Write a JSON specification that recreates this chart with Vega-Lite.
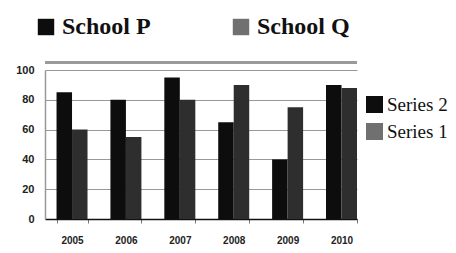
{
  "$schema": "https://vega.github.io/schema/vega-lite/v6.json",
  "autosize": {"type": "none"},
  "padding": {"left": 45, "top": 70, "right": 99, "bottom": 34},
  "width": 312,
  "height": 149,
  "background": "white",
  "config": {
    "view": {"stroke": null},
    "font": "Liberation Serif",
    "axis": {"title": null},
    "axisY": {
      "tickCount": 5, "labelOverlap": false,
      "grid": true, "gridColor": "#999", "gridWidth": 1,
      "ticks": false, "labelPadding": 11,
      "domainColor": "#999", "domainWidth": 1.5,
      "labelFont": "Liberation Sans", "labelFontWeight": "bold", "labelFontSize": 11, "labelColor": "#222"
    },
    "axisX": {
      "labelAngle": 0, "labelFont": "Liberation Sans", "labelFontWeight": "bold", "labelFontSize": 10,
      "labelColor": "#222", "domainColor": "#111", "domainWidth": 1.5,
      "tickBand": "extent", "tickSize": 4, "tickColor": "#777", "labelPadding": 12
    }
  },
  "data": {
    "values": [
      {"year": "2005", "school": "School P", "series": "Series 2", "value": 85},
      {"year": "2005", "school": "School Q", "series": "Series 1", "value": 60},
      {"year": "2006", "school": "School P", "series": "Series 2", "value": 80},
      {"year": "2006", "school": "School Q", "series": "Series 1", "value": 55},
      {"year": "2007", "school": "School P", "series": "Series 2", "value": 95},
      {"year": "2007", "school": "School Q", "series": "Series 1", "value": 80},
      {"year": "2008", "school": "School P", "series": "Series 2", "value": 65},
      {"year": "2008", "school": "School Q", "series": "Series 1", "value": 90},
      {"year": "2009", "school": "School P", "series": "Series 2", "value": 40},
      {"year": "2009", "school": "School Q", "series": "Series 1", "value": 75},
      {"year": "2010", "school": "School P", "series": "Series 2", "value": 90},
      {"year": "2010", "school": "School Q", "series": "Series 1", "value": 88}
    ]
  },
  "layer": [
    {
      "mark": {"type": "bar"},
      "encoding": {
        "x": {
          "field": "year", "type": "nominal",
          "scale": {"paddingInner": 0.425, "paddingOuter": 0.107, "align": 1}
        },
        "xOffset": {"field": "school", "type": "nominal", "sort": ["School P", "School Q"]},
        "y": {
          "field": "value", "type": "quantitative",
          "scale": {"domain": [0, 100], "nice": false}
        },
        "color": {
          "condition": {"test": "datum.school === 'School P'", "value": "#0d0d0d"},
          "value": "#2e2e2e"
        }
      }
    },
    {
      "mark": {"type": "bar"},
      "encoding": {
        "x": {"field": "year", "type": "nominal"},
        "xOffset": {"field": "school", "type": "nominal", "sort": ["School P", "School Q"]},
        "y": {"datum": 0},
        "color": {
          "field": "school", "type": "nominal",
          "scale": {"domain": ["School P", "School Q"], "range": ["#0d0d0d", "#707070"]},
          "legend": {
            "title": null, "orient": "none", "direction": "horizontal",
            "legendX": -11, "legendY": -55, "padding": 0,
            "symbolType": "square", "symbolSize": 270, "symbolStrokeWidth": 0,
            "labelFont": "Liberation Serif", "labelFontWeight": "bold", "labelFontSize": 24, "labelColor": "#111",
            "labelOffset": 4, "columnPadding": 78
          }
        }
      }
    },
    {
      "mark": {"type": "bar"},
      "encoding": {
        "x": {"field": "year", "type": "nominal"},
        "xOffset": {"field": "school", "type": "nominal", "sort": ["School P", "School Q"]},
        "y": {"datum": 0},
        "fill": {
          "field": "series", "type": "nominal",
          "scale": {"domain": ["Series 2", "Series 1"], "range": ["#0d0d0d", "#707070"]},
          "legend": {
            "title": null, "orient": "none", "direction": "vertical",
            "legendX": 320, "legendY": 25, "padding": 0,
            "symbolType": "square", "symbolSize": 290, "symbolStrokeWidth": 0,
            "labelFont": "Liberation Serif", "labelFontSize": 19, "labelColor": "#111",
            "labelOffset": 3, "rowPadding": 7
          }
        }
      }
    },
    {
      "mark": {"type": "rule", "color": "#999", "strokeWidth": 2},
      "encoding": {"y": {"datum": 105}}
    }
  ]
}
